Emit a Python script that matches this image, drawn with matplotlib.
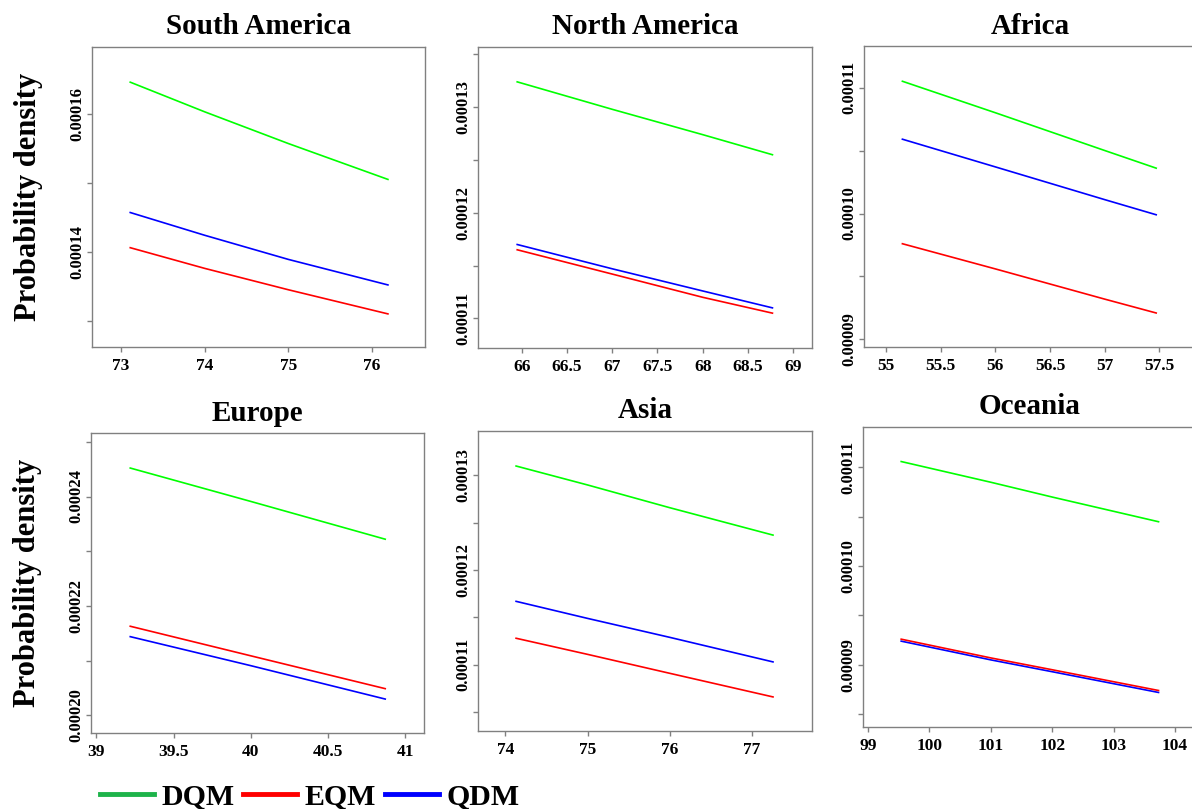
import matplotlib.pyplot as plt
from matplotlib.lines import Line2D
from matplotlib.ticker import FixedLocator, FuncFormatter

plt.rcParams['font.family'] = ['Liberation Serif', 'DejaVu Serif']
plt.rcParams['font.weight'] = 'bold'

# data, one block per region
regions = ['South America', 'North America', 'Africa', 'Europe', 'Asia', 'Oceania']

sa_x = [73.11, 74.0, 75.0, 76.19]
sa_dqm = [0.0001646, 0.0001603, 0.0001557, 0.0001505]
sa_eqm = [0.0001406, 0.0001376, 0.0001345, 0.0001310]
sa_qdm = [0.0001457, 0.0001424, 0.0001389, 0.0001352]

na_x = [65.95, 67.0, 68.0, 68.77]
na_dqm = [0.0001324, 0.0001298, 0.0001274, 0.0001255]
na_eqm = [0.0001165, 0.0001142, 0.0001120, 0.0001105]
na_qdm = [0.0001170, 0.0001147, 0.0001126, 0.0001110]

af_x = [55.15, 56.0, 57.0, 57.47]
af_dqm = [0.0001105, 0.0001080, 0.0001050, 0.0001036]
af_eqm = [0.0000976, 0.0000956, 0.0000932, 0.0000921]
af_qdm = [0.0001059, 0.0001037, 0.0001011, 0.0000999]

eu_x = [39.22, 40.0, 40.87]
eu_dqm = [0.0002452, 0.0002391, 0.0002322]
eu_eqm = [0.0002163, 0.0002109, 0.0002049]
eu_qdm = [0.0002144, 0.0002091, 0.0002030]

as_x = [74.13, 75.0, 76.0, 77.26]
as_dqm = [0.0001310, 0.0001290, 0.0001266, 0.0001237]
as_eqm = [0.0001128, 0.0001111, 0.0001091, 0.0001066]
as_qdm = [0.0001167, 0.0001149, 0.0001129, 0.0001103]

oc_x = [99.54, 101.0, 102.0, 103.73]
oc_dqm = [0.0001106, 0.0001085, 0.0001070, 0.0001045]
oc_eqm = [0.0000926, 0.0000907, 0.0000895, 0.0000874]
oc_qdm = [0.0000924, 0.0000905, 0.0000893, 0.0000872]

xs = [sa_x, na_x, af_x, eu_x, as_x, oc_x]
dqm = [sa_dqm, na_dqm, af_dqm, eu_dqm, as_dqm, oc_dqm]
eqm = [sa_eqm, na_eqm, af_eqm, eu_eqm, as_eqm, oc_eqm]
qdm = [sa_qdm, na_qdm, af_qdm, eu_qdm, as_qdm, oc_qdm]

xticks = [[73, 74, 75, 76],
          [66, 66.5, 67, 67.5, 68, 68.5, 69],
          [55, 55.5, 56, 56.5, 57, 57.5],
          [39, 39.5, 40, 40.5, 41],
          [74, 75, 76, 77],
          [99, 100, 101, 102, 103, 104]]
yticks = [[0.00013, 0.00014, 0.00015, 0.00016],
          [0.00011, 0.000115, 0.00012, 0.000125, 0.00013, 0.000135],
          [0.00009, 0.000095, 0.0001, 0.000105, 0.00011],
          [0.0002, 0.00021, 0.00022, 0.00023, 0.00024, 0.00025],
          [0.000105, 0.00011, 0.000115, 0.00012, 0.000125, 0.00013],
          [0.000085, 0.00009, 0.000095, 0.0001, 0.000105, 0.00011]]
ylabeled = [[0.00014, 0.00016],
            [0.00011, 0.00012, 0.00013],
            [0.00009, 0.0001, 0.00011],
            [0.0002, 0.00022, 0.00024],
            [0.00011, 0.00012, 0.00013],
            [0.00009, 0.0001, 0.00011]]

xlims = [(72.653, 76.633), (65.517, 69.207), (54.799, 57.834),
         (38.966, 41.121), (73.666, 77.735), (98.918, 104.34)]
ylims = [(0.0001262, 0.0001697), (0.0001072, 0.0001357), (0.0000894, 0.0001133),
         (0.0001968, 0.0002516), (0.0001030, 0.0001347), (0.0000837, 0.0001141)]

# plot boxes in pixels: left, right, top, bottom
W, H = 1192, 809
boxes = [(92, 425, 47, 347), (478, 812, 47, 348), (864, 1196, 46, 347),
         (91, 424, 433, 733), (478, 812, 431, 731), (863, 1196, 427, 727)]

fig = plt.figure(figsize=(W / 100, H / 100), dpi=100)

for i in range(6):
    l, r, t, b = boxes[i]
    ax = fig.add_axes([l / W, 1 - b / H, (r - l) / W, (b - t) / H])
    ax.plot(xs[i], dqm[i], color='#00ff00', lw=1.2)
    ax.plot(xs[i], qdm[i], color='#0000ff', lw=1.2)
    ax.plot(xs[i], eqm[i], color='#ff0000', lw=1.2)
    ax.set_xlim(xlims[i])
    ax.set_ylim(ylims[i])
    ax.set_xticks(xticks[i])
    ax.set_xticklabels([('%g' % v) for v in xticks[i]])
    ax.yaxis.set_major_locator(FixedLocator(yticks[i]))
    lab = ylabeled[i]
    ax.yaxis.set_major_formatter(FuncFormatter(
        lambda v, p, lab=lab: ('%.5f' % v) if any(abs(v - q) < 1e-9 for q in lab) else ''))
    for sp in ax.spines.values():
        sp.set_color('#808080')
        sp.set_linewidth(1.0)
    ax.tick_params(axis='both', colors='#808080', labelcolor='black',
                   length=3.6, width=1.0, labelsize=12.5)
    ax.tick_params(axis='x', pad=4)
    ax.tick_params(axis='y', pad=1.5, labelsize=12)
    for tl in ax.get_yticklabels():
        tl.set_rotation(90)
        tl.set_va('center')
    ax.set_title(regions[i], fontsize=21, fontweight='bold', pad=9)
    if i % 3 == 0:
        ax.set_ylabel('Probability density', fontsize=22, fontweight='bold', labelpad=19)

handles = [Line2D([], [], color='#1db34a', lw=3.5),
           Line2D([], [], color='#ff0000', lw=3.5),
           Line2D([], [], color='#0000ff', lw=3.5)]
fig.legend(handles, ['DQM', 'EQM', 'QDM'], loc='center left',
           bbox_to_anchor=(88 / W, 1 - 797 / H), ncol=3, frameon=False,
           prop={'size': 21.5, 'weight': 'bold'}, handlelength=1.8,
           handletextpad=0.25, columnspacing=0.3, borderaxespad=0)

fig.savefig('out.png', dpi=100)
